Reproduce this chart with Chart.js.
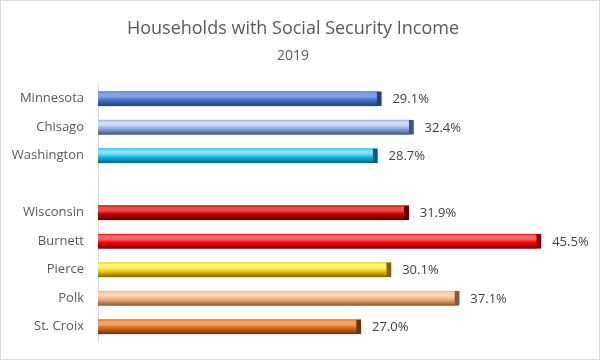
<!DOCTYPE html>
<html>
<head>
<meta charset="utf-8">
<script src="https://cdn.jsdelivr.net/npm/chart.js@4/dist/chart.umd.min.js"></script>
<style>
  html, body { margin: 0; padding: 0; background: #fff; }
  #wrap { width: 600px; height: 360px; box-sizing: border-box; border: 1px solid #d9d9d9; }
</style>
</head>
<body>
<div id="wrap"><canvas id="ssChart" width="598" height="358"></canvas></div>
<script>
// values (blank row separates MN and WI groups)
const places = ['Minnesota', 'Chisago', 'Washington', '', 'Wisconsin', 'Burnett', 'Pierce', 'Polk', 'St. Croix'];
const shares = [29.1, 32.4, 28.7, null, 31.9, 45.5, 30.1, 37.1, 27.0];
const xTicks = [0, 50];

// bar colours: [light, base, dark]
const shades = [
    ['#7fa3e3', '#4472c4', '#22407a'],
    ['#cfdcf5', '#8eaadb', '#3f5682'],
    ['#7fe0fb', '#13b5e6', '#06607c'],
    ['#999', '#999', '#999'],
    ['#f04a4a', '#c00000', '#5e0000'],
    ['#ff6a6a', '#ee0000', '#850000'],
    ['#fff27a', '#f0cc00', '#7a6400'],
    ['#fbd5b5', '#eba978', '#8a5736'],
    ['#f7a25e', '#d2671e', '#6c320a']
];

const BAR_H = 15;

function barFill(ctx) {
    const chart = ctx.chart;
    const s = shades[ctx.dataIndex];
    if (!chart.chartArea) return s[1];
    const y = chart.scales.y.getPixelForValue(ctx.dataIndex);
    const g = chart.ctx.createLinearGradient(0, y - BAR_H / 2, 0, y + BAR_H / 2);
    g.addColorStop(0, s[1]);
    g.addColorStop(0.15, s[0]);
    g.addColorStop(0.35, s[0]);
    g.addColorStop(0.6, s[1]);
    g.addColorStop(1, s[2]);
    return g;
}

// simple value labels to the right of every bar
const valueLabels = {
    id: 'valueLabels',
    afterDatasetsDraw(chart) {
        const c = chart.ctx;
        const meta = chart.getDatasetMeta(0);
        c.save();
        c.font = '13px "Open Sans"';
        c.fillStyle = '#404040';
        c.textBaseline = 'middle';
        c.textAlign = 'left';
        meta.data.forEach((bar, i) => {
            if (shares[i] == null) return;
            c.fillText(shares[i].toFixed(1) + '%', bar.x + 11, bar.y + 1);
        });
        c.restore();
    }
};

new Chart(document.getElementById('ssChart'), {
    type: 'bar',
    data: {
        labels: places,
        datasets: [{
            data: shares,
            backgroundColor: barFill,
            borderColor: shades.map(s => s[2]),
            borderWidth: { top: 0, bottom: 0, left: 0, right: 5 },
            borderSkipped: false,
            barThickness: BAR_H
        }]
    },
    options: {
        indexAxis: 'y',
        responsive: false,
        animation: false,
        layout: { padding: { left: 0, right: 14, bottom: 18 } },
        scales: {
            x: {
                display: false,
                min: xTicks[0],
                max: xTicks[1]
            },
            y: {
                grid: { display: false, drawTicks: false },
                border: { display: true, color: '#d9d9d9', width: 1 },
                ticks: {
                    padding: 14,
                    color: '#595959',
                    font: { family: 'Open Sans', size: 13 }
                },
                afterFit(scale) {
                    scale.width = 97;
                    // labels sit inside the category bands, no extra room needed
                    scale.paddingTop = 0;
                    scale.paddingBottom = 0;
                }
            }
        },
        plugins: {
            legend: { display: false },
            tooltip: { enabled: false },
            title: {
                display: true,
                text: 'Households with Social Security Income',
                color: '#595959',
                font: { family: 'Open Sans', size: 18, weight: 'normal' },
                padding: { top: 17, bottom: 8 }
            },
            subtitle: {
                display: true,
                text: '2019',
                color: '#595959',
                font: { family: 'Open Sans', size: 14 },
                padding: { top: 0, bottom: 20 }
            }
        }
    },
    plugins: [valueLabels]
});
</script>
</body>
</html>
